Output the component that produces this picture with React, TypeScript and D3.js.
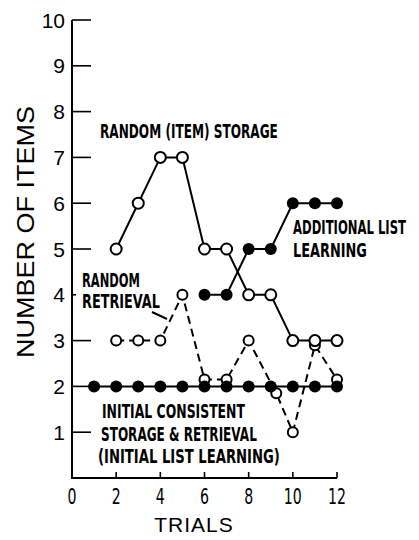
import React, { useLayoutEffect, useRef } from "react";
import * as d3 from "d3";

const W = 419;
const H = 540;

const yTicks = [0, 1, 2, 3, 4, 5, 6, 7, 8, 9, 10];
const xTicks = [0, 2, 4, 6, 8, 10, 12];

const storageTrials = [2, 3, 4, 5, 6, 7, 8, 9, 10, 11, 12];
const storageValues = [5, 6, 7, 7, 5, 5, 4, 4, 3, 3, 3];

const additionalTrials = [6, 7, 8, 9, 10, 11, 12];
const additionalValues = [4, 4, 5, 5, 6, 6, 6];

const retrievalTrials = [2, 3, 4, 5, 6, 7, 8, 9.25, 10, 11, 12];
const retrievalValues = [3, 3, 3, 4, 2.15, 2.15, 3, 1.85, 1, 2.9, 2.15];

const initialTrials = [1, 2, 3, 4, 5, 6, 7, 8, 9, 10, 11, 12];
const initialValues = [2, 2, 2, 2, 2, 2, 2, 2, 2, 2, 2, 2];

const labelFont = "'DejaVu Sans', sans-serif";
const axisFont = "'Liberation Sans', Arial, sans-serif";

type Note = { text: string; x: number; y: number; w: number };
const notes: Note[] = [
  { text: "RANDOM (ITEM) STORAGE", x: 100, y: 138, w: 178 },
  { text: "ADDITIONAL LIST", x: 293, y: 234, w: 113 },
  { text: "LEARNING", x: 293, y: 257, w: 74 },
  { text: "RANDOM", x: 82, y: 287, w: 58 },
  { text: "RETRIEVAL", x: 82, y: 308, w: 78 },
  { text: "INITIAL CONSISTENT", x: 102, y: 418, w: 143 },
  { text: "STORAGE & RETRIEVAL", x: 101, y: 441, w: 156 },
  { text: "(INITIAL LIST LEARNING)", x: 98, y: 463, w: 182 },
];

// text squeezed horizontally to a target width (condensed typeface look)
function FitText(props: {
  x: number;
  y: number;
  w: number;
  anchor?: "start" | "middle";
  fontSize: number;
  fontFamily: string;
  fontWeight?: string;
  children: string;
}) {
  const ref = useRef<SVGTextElement>(null);
  const { x, y, w, anchor = "start", fontSize, fontFamily, fontWeight } = props;
  useLayoutEffect(() => {
    const el = ref.current;
    if (!el) return;
    const len = el.getComputedTextLength() || w;
    const s = w / len;
    const left = anchor === "middle" ? x - w / 2 : x;
    el.setAttribute("transform", `translate(${left},${y}) scale(${s},1)`);
  }, [x, y, w, anchor]);
  return (
    <text
      ref={ref}
      x={0}
      y={0}
      fontSize={fontSize}
      fontFamily={fontFamily}
      fontWeight={fontWeight}
      transform={`translate(${anchor === "middle" ? x - w / 2 : x},${y})`}
    >
      {props.children}
    </text>
  );
}

export default function App() {
  const x = d3.scaleLinear().domain([0, 12]).range([72, 337]);
  const y = d3.scaleLinear().domain([0, 10]).range([478, 20]);

  const line = d3
    .line<[number, number]>()
    .x((d) => x(d[0]))
    .y((d) => y(d[1]));

  const zip = (a: number[], b: number[]) => a.map((v, i) => [v, b[i]] as [number, number]);

  const storage = zip(storageTrials, storageValues);
  const additional = zip(additionalTrials, additionalValues);
  const retrieval = zip(retrievalTrials, retrievalValues);
  const initial = zip(initialTrials, initialValues);

  const stroke = "#000";

  return (
    <svg
      width={W}
      height={H}
      style={{ position: "absolute", left: 0, top: 0, background: "#fff" }}
    >
      {/* y axis */}
      <line x1={x(0)} x2={x(0)} y1={y(10)} y2={y(0)} stroke={stroke} strokeWidth={2} />
      {yTicks.map((t) => (
        <g key={"y" + t}>
          {t > 0 && (
            <line
              x1={x(0)}
              x2={x(0) + (t === 4 ? 4 : 19)}
              y1={y(t)}
              y2={y(t)}
              stroke={stroke}
              strokeWidth={1.6}
            />
          )}
          {t > 0 && (
            <text
              x={65}
              y={y(t)}
              dy="0.36em"
              textAnchor="end"
              fontFamily={axisFont}
              fontSize={21}
            >
              {t}
            </text>
          )}
        </g>
      ))}
      {/* x axis */}
      <line x1={x(0) - 1} x2={x(12)} y1={y(0)} y2={y(0)} stroke={stroke} strokeWidth={2} />
      {xTicks.map((t) => (
        <g key={"x" + t}>
          {t > 0 && (
            <line x1={x(t)} x2={x(t)} y1={y(0)} y2={y(0) - 6} stroke={stroke} strokeWidth={1.6} />
          )}
          <FitText
            x={x(t)}
            y={504}
            w={String(t).length * 9}
            anchor="middle"
            fontFamily={labelFont}
            fontSize={21}
          >
            {String(t)}
          </FitText>
        </g>
      ))}
      <text x={194} y={532} textAnchor="middle" fontFamily={axisFont} fontSize={21} letterSpacing={1}>
        TRIALS
      </text>
      <text
        transform={`translate(34, 232) rotate(-90)`}
        textAnchor="middle"
        fontFamily={axisFont}
        fontSize={23}
        textLength={252}
        lengthAdjust="spacingAndGlyphs"
      >
        NUMBER OF ITEMS
      </text>

      {/* random retrieval (dashed) */}
      <path d={line(retrieval) ?? ""} fill="none" stroke={stroke} strokeWidth={2} strokeDasharray="8,5" />
      {retrieval.map((d, i) => (
        <circle key={"r" + i} cx={x(d[0])} cy={y(d[1])} r={5} fill="#fff" stroke={stroke} strokeWidth={2} />
      ))}

      {/* random storage */}
      <path d={line(storage) ?? ""} fill="none" stroke={stroke} strokeWidth={2} />
      {storage.map((d, i) => (
        <circle key={"s" + i} cx={x(d[0])} cy={y(d[1])} r={5.5} fill="#fff" stroke={stroke} strokeWidth={2} />
      ))}

      {/* additional list learning */}
      <path d={line(additional) ?? ""} fill="none" stroke={stroke} strokeWidth={2} />
      {additional.map((d, i) => (
        <circle key={"a" + i} cx={x(d[0])} cy={y(d[1])} r={6} fill={stroke} />
      ))}

      {/* initial consistent */}
      <path d={line(initial) ?? ""} fill="none" stroke={stroke} strokeWidth={2} />
      {initial.map((d, i) => (
        <circle key={"i" + i} cx={x(d[0])} cy={y(d[1])} r={6} fill={stroke} />
      ))}

      {/* leader line */}
      <line x1={152} y1={312} x2={167} y2={319} stroke={stroke} strokeWidth={2} />

      {/* annotations */}
      {notes.map((n) => (
        <FitText
          key={n.text}
          x={n.x}
          y={n.y}
          w={n.w}
          fontFamily={labelFont}
          fontWeight="bold"
          fontSize={19}
        >
          {n.text}
        </FitText>
      ))}
    </svg>
  );
}
